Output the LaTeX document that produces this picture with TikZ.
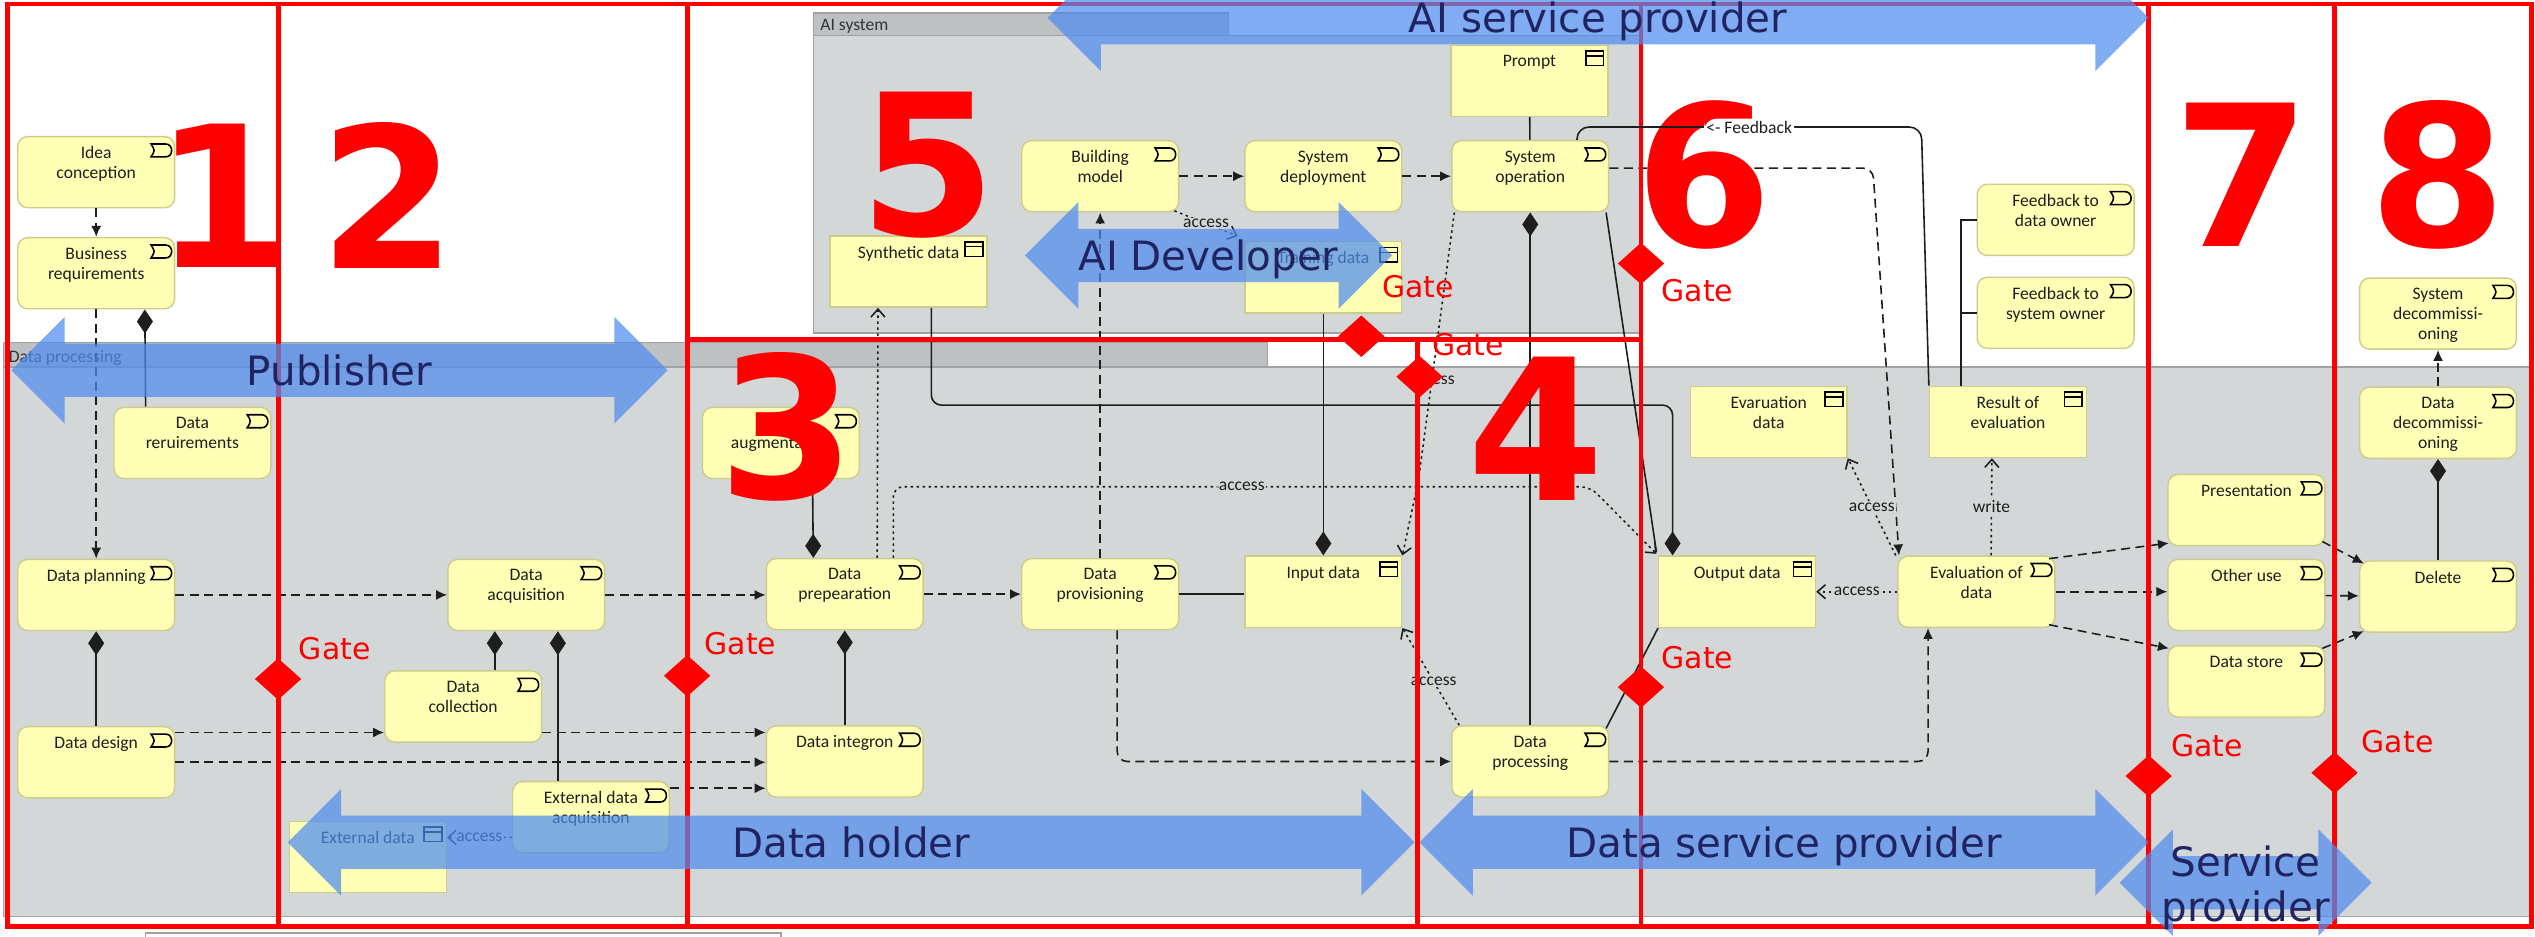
\documentclass[tikz,border=0pt]{standalone}
\usepackage{fontspec}
\setmainfont{Carlito}
\newfontfamily\gatefont{DejaVu Sans}
\usetikzlibrary{arrows.meta,calc,shapes.geometric}

\definecolor{nodefill}{RGB}{255,255,181}
\definecolor{nodeline}{RGB}{204,204,140}
\definecolor{grpfill}{RGB}{211,215,216}
\definecolor{grptab}{RGB}{190,193,195}
\definecolor{grpline}{RGB}{160,162,164}
\definecolor{rolefill}{RGB}{78,140,238}
\definecolor{roletext}{RGB}{34,36,98}
\definecolor{wirecol}{RGB}{30,30,30}

\tikzset{
  elemtext/.style={anchor=north, yshift=-1mm, inner sep=0pt, align=center,
    font=\fontsize{5}{5.7}\selectfont, text=wirecol},
  elem/.style={draw=nodeline, fill=nodefill, line width=0.4pt, inner sep=0pt,
    minimum width=97*0.1617mm, minimum height=44*0.1617mm,
    label={[elemtext]north:#1}},
  proc/.style={elem=#1, rounded corners=1mm},
  dobj/.style={elem=#1},
  iconline/.style={draw=black, line width=0.45pt},
  grpbody/.style={fill=grpfill, draw=grpline, line width=0.4pt},
  grphead/.style={fill=grptab, draw=grpline, line width=0.4pt},
  grplbl/.style={font=\fontsize{5}{6}\selectfont, text=black!80, inner sep=0pt},
  wire/.style={draw=wirecol, line width=0.45pt},
  trig/.style={wire, dash pattern=on 0.9mm off 0.55mm, -{Latex[length=1.1mm,width=1mm]}},
  comp/.style={wire, {Diamond[length=2.4mm,width=1.6mm]}-},
  acc/.style={wire, dash pattern=on 0.25mm off 0.35mm, -{Straight Barb[length=0.8mm,width=1.4mm]}},
  acclbl/.style={font=\fontsize{5}{6}\selectfont, text=wirecol, fill=grpfill, inner sep=0.4pt},
  fblabel/.style={font=\fontsize{5}{6}\selectfont, text=wirecol, fill=white, inner sep=0.6pt},
  redline/.style={draw=red, line width=1.4pt},
  gate/.style={diamond, fill=red, inner sep=0pt, minimum width=29*0.1617mm, minimum height=26*0.1617mm},
  gatelbl/.style={font=\gatefont\fontsize{8.5}{10}\selectfont, text=red, inner sep=0pt},
  phase/.style={font=\gatefont\bfseries\fontsize{56}{60}\selectfont, text=red, inner sep=0pt},
  roletxt/.style={font=\gatefont\fontsize{11.5}{13}\selectfont, text=roletext, inner sep=0pt, anchor=base}
}

\newcommand\procicon[1]{%
  \draw[iconline] ($(#1.north east)+(-15,5)$) -- ++(9,0) .. controls +(5,0) and +(5,0) .. ++(0,8)
    -- ++(-9,0) .. controls +(2.5,-4) .. ++(0,-8) -- cycle;}
\newcommand\dataicon[1]{%
  \draw[iconline] ($(#1.north east)+(-14,4)$) rectangle ++(11,9);
  \draw[iconline] ($(#1.north east)+(-14,7)$) -- ++(11,0);}
\newcommand\rolearrow[3]{%
  \fill[rolefill, fill opacity=0.72] (#1,#3) -- ({#1+33},{#3-33}) -- ({#1+33},{#3-16.5})
    -- ({#2-33},{#3-16.5}) -- ({#2-33},{#3-33}) -- (#2,#3) -- ({#2-33},{#3+33})
    -- ({#2-33},{#3+16.5}) -- ({#1+33},{#3+16.5}) -- ({#1+33},{#3+33}) -- cycle;}

\begin{document}
\begin{tikzpicture}[x=0.1617mm, y=-0.1617mm]
  \useasboundingbox (0,0) rectangle (1568,579);
  \clip (0,0) rectangle (1568,579);
  \fill[white] (0,0) rectangle (1568,579);

  %%%%% GROUPS %%%%%
  \draw[grpbody] (2,227) rectangle (1567,567);
  \draw[grphead] (2,212) rectangle (784,227);
  \node[grplbl, anchor=base west] (dplbl) at (5,224) {Data processing};
  \draw[grpbody] (503,22) rectangle (1015,206);
  \draw[grphead] (503,8) rectangle (760,22);
  \node[grplbl, anchor=base west] (aislbl) at (507,19) {AI system};
  \draw[draw=grpline, line width=0.4pt] (90,590) -- (90,577) -- (483,577) -- (483,590);

  %%%%% ELEMENTS %%%%%
  \node[proc={Idea\\conception}] (idea) at (59.5,106.5) {};
  \node[proc={Business\\requirements}] (bizreq) at (59.5,169) {};
  \node[proc={Data\\reruirements}] (datareq) at (119,274) {};
  \node[proc={Data planning}] (planning) at (59.5,368) {};
  \node[proc={Data design}] (design) at (59.5,471.5) {};
  \node[proc={Data\\acquisition}] (acquisition) at (325.5,368) {};
  \node[proc={Data\\collection}] (collection) at (286.5,437) {};
  \node[proc={External data\\acquisition}] (extacq) at (365.5,505.5) {};
  \node[dobj={External data}] (extdata) at (227.5,530) {};
  \node[proc={Data\\augmentation}] (augment) at (483,274) {};
  \node[proc={Data\\prepearation}] (prep) at (522.5,367.5) {};
  \node[proc={Data integron}] (integron) at (522.5,471) {};
  \node[proc={Data\\provisioning}] (provision) at (680.5,367.5) {};
  \node[dobj={Input data}] (inputdata) at (818.5,366) {};
  \node[dobj={Synthetic data}] (synthetic) at (562,168) {};
  \node[proc={Building\\model}] (building) at (680.5,109) {};
  \node[proc={System\\deployment}] (deploy) at (818.5,109) {};
  \node[dobj={Training data}] (training) at (818.5,171.5) {};
  \node[dobj={Prompt}] (prompt) at (946,50) {};
  \node[proc={System\\operation}] (sysop) at (946.5,109) {};
  \node[proc={Feedback to\\data owner}] (fbdata) at (1271.5,136) {};
  \node[proc={Feedback to\\system owner}] (fbsys) at (1271.5,193.5) {};
  \node[dobj={Evaruation\\data}] (evaldata) at (1094,261) {};
  \node[dobj={Result of\\evaluation}] (result) at (1242,261) {};
  \node[dobj={Output data}] (output) at (1074.5,366) {};
  \node[proc={Evaluation of\\data}] (evaluation) at (1222.5,366) {};
  \node[proc={Data\\processing}] (processing) at (946.5,471) {};
  \node[proc={Presentation}] (present) at (1389.5,315.5) {};
  \node[proc={Other use}] (otheruse) at (1389.5,368) {};
  \node[proc={Data store}] (store) at (1389.5,421.5) {};
  \node[proc={System\\decommissi-\\oning}] (sysdecom) at (1508,194) {};
  \node[proc={Data\\decommissi-\\oning}] (datadecom) at (1508,261.5) {};
  \node[proc={Delete}] (delete) at (1508,369) {};

  \foreach \n in {idea,bizreq,datareq,planning,design,acquisition,collection,extacq,augment,
    prep,integron,provision,building,deploy,sysop,fbdata,fbsys,evaluation,processing,
    present,otheruse,store,sysdecom,datadecom,delete} {\procicon{\n}}
  \foreach \n in {extdata,inputdata,synthetic,training,prompt,evaldata,result,output} {\dataicon{\n}}

  %%%%% TRIGGERING / FLOW %%%%%
  \coordinate (dsgtop) at ($(design.north east)+(0,4)$);
  \coordinate (extop) at ($(extacq.north east)+(0,4.5)$);
  \draw[trig] (idea) -- (bizreq);
  \draw[trig] (bizreq) -- (planning);
  \draw[trig] (planning) -- (acquisition);
  \draw[trig] (acquisition.east) -- (acquisition.east -| prep.west);
  \draw[trig] (prep) -- (provision);
  \draw[trig] (dsgtop) -- (dsgtop -| collection.west);
  \draw[trig] (dsgtop -| collection.east) -- (dsgtop -| integron.west);
  \draw[trig] (design.east) -- (design.east -| integron.west);
  \draw[trig] (extop) -- (extop -| integron.west);
  \draw[trig, rounded corners=1mm] ($(provision.south)+(10.5,0)$) |- (processing.west);
  \draw[trig, rounded corners=1mm] (processing.east) -| ($(evaluation.south west)+(19,0)$);
  \draw[trig] (provision) -- (building);
  \draw[trig] (building) -- (deploy);
  \draw[trig] (deploy) -- (sysop);
  \draw[trig, rounded corners=1mm] ($(sysop.east)+(0,-5)$) -- ++(163,0) -- ($(evaluation.north west)+(1,0)$);
  \draw[trig] ($(evaluation.north east)+(-4,2)$) -- ($(present.south west)+(1,-2)$);
  \draw[trig] (evaluation.east) -- (evaluation.east -| otheruse.west);
  \draw[trig] ($(evaluation.south east)+(-4,-2)$) -- ($(store.north west)+(1,2)$);
  \draw[trig] ($(present.south east)+(-2,-3)$) -- ($(delete.north west)+(3,2)$);
  \draw[trig] (otheruse) -- (delete);
  \draw[trig] ($(store.north east)+(-2,2)$) -- ($(delete.south west)+(3,-1)$);
  \draw[trig] (datadecom) -- (sysdecom);

  %%%%% COMPOSITION %%%%%
  \draw[comp] ($(bizreq.south west)+(79,0)$) -- ($(datareq.north west)+(20,0)$);
  \draw[comp] (planning) -- (design);
  \draw[comp] ($(acquisition.south west)+(29.5,0)$) -- ($(collection.north west)+(68.5,0)$);
  \draw[comp] ($(acquisition.south west)+(68.5,0)$) -- ($(extacq.north west)+(28.5,0)$);
  \draw[comp] ($(prep.north west)+(29.5,0)$) -- ($(augment.south west)+(68.5,0)$);
  \draw[comp] (prep) -- (integron);
  \draw[comp] (inputdata) -- (training);
  \draw[comp] (sysop) -- (processing);
  \draw[comp, rounded corners=1mm] ($(output.north west)+(9,0)$) -- ++(0,-93) -| ($(synthetic.south west)+(63,0)$);
  \draw[comp] (datadecom) -- (delete);

  %%%%% OTHER LINES %%%%%
  \draw[wire] (prompt) -- (sysop);
  \draw[wire] (provision.east) -- (provision.east -| inputdata.west);
  \draw[wire] ($(sysop.south east)+(-2,0)$) -- ($(output.north west)+(-1,-2)$);
  \draw[wire] ($(processing.north east)+(-2,2)$) -- (output.south west);
  \draw[wire] ($(result.north west)+(20,0)$) |- (fbdata.west);
  \draw[wire] ($(result.north west)+(20,0)$) |- (fbsys.west);

  %%%%% ACCESS %%%%%
  \draw[acc] ($(extacq.west)+(0,12.5)$) -- node[acclbl] (acc1) {access} ($(extdata.east)+(0,-12)$);
  \draw[acc] ($(building.south east)+(-3,-1)$) -- node[acclbl] (acc2) {access} ($(training.north west)+(-4,-3)$);
  \draw[acc] ($(prep.north west)+(69,0)$) -- ($(synthetic.south west)+(30,0)$);
  \draw[acc, rounded corners=1mm] ($(prep.north west)+(79,0)$) -- ++(0,-44)
    -- node[acclbl] (acc3) {access} ++(431,0) -- ($(output.north west)+(-1,-1)$);
  \draw[acc] ($(sysop.south west)+(2,0)$) -- node[acclbl, pos=0.63] (acc4) {access}
    ($(inputdata.north east)+(10,-47)$) -- (inputdata.north east);
  \draw[acc] ($(processing.north west)+(5,0)$) -- node[acclbl, pos=0.45] (acc5) {access} (inputdata.south east);
  \draw[acc] (evaluation.west) -- node[acclbl] (acc6) {access} (evaluation.west -| output.east);
  \draw[acc] ($(evaluation.north west)+(-1,0)$) -- node[acclbl] (acc7) {access} (evaldata.south east);
  \draw[acc] ($(evaluation.north west)+(58,0)$) -- node[acclbl] (wr1) {write} ($(result.south west)+(39,0)$);

  %%%%% PHASES AND GATES %%%%%
  \draw[redline] (4.5,2.5) rectangle (1566,573);
  \foreach \x in {172,425,1015,1329,1444} {\draw[redline] (\x,2.5) -- (\x,573);}
  \draw[redline] (877,210) -- (877,573);
  \draw[redline] (425,210) -- (1015,210);

  \node[gate] (gate1) at (172,420) {};
  \node[gate] (gate2) at (425,418) {};
  \node[gate] (gate3) at (842,208) {};
  \node[gate] (gate4) at (878,233) {};
  \node[gate] (gate5) at (1015,163) {};
  \node[gate] (gate6) at (1015,425) {};
  \node[gate] (gate7) at (1329,480) {};
  \node[gate] (gate8) at (1444,478) {};
  \node[gatelbl] (gate1lbl) at (207,401) {Gate};
  \node[gatelbl] (gate2lbl) at (458,398) {Gate};
  \node[gatelbl] (gate3lbl) at (877,177) {Gate};
  \node[gatelbl] (gate4lbl) at (908,213) {Gate};
  \node[gatelbl] (gate5lbl) at (1050,180) {Gate};
  \node[gatelbl] (gate6lbl) at (1050,407) {Gate};
  \node[gatelbl] (gate7lbl) at (1365,461) {Gate};
  \node[gatelbl] (gate8lbl) at (1483,459) {Gate};

  \node[phase] (ph1) at (138,121) {1};
  \node[phase] (ph2) at (240,121) {2};
  \node[phase] (ph3) at (487,264) {3};
  \node[phase] (ph4) at (950,265) {4};
  \node[phase] (ph5) at (574,102) {5};
  \node[phase] (ph6) at (1054,108) {6};
  \node[phase] (ph7) at (1387,108) {7};
  \node[phase] (ph8) at (1508,108) {8};

  % feedback line lies over the 6
  \draw[wire, rounded corners=1.2mm] ($(sysop.north east)+(-20,0)$) -- ++(0,-8)
    -- node[fblabel] (fblbl) {<- Feedback} ++(213,0) -- (result.north west);

  %%%%% ROLES %%%%%
  \rolearrow{648}{1329}{11}
  \rolearrow{7}{413}{229}
  \rolearrow{634}{861}{158}
  \rolearrow{178}{875}{521}
  \rolearrow{878}{1329}{521}
  \rolearrow{1311}{1467}{546}
  \node[roletxt] (aisp) at (988.5,20.3) {AI service provider};
  \node[roletxt] (publisher) at (210,238.3) {Publisher};
  \node[roletxt] (aidev) at (747.5,167.3) {AI Developer};
  \node[roletxt] (holder) at (526.5,530.3) {Data holder};
  \node[roletxt] (dsp) at (1103.5,530.3) {Data service provider};
  \node[roletxt] (svc1) at (1389,542) {Service};
  \node[roletxt] (svc2) at (1389,570) {provider};
\end{tikzpicture}
\end{document}
